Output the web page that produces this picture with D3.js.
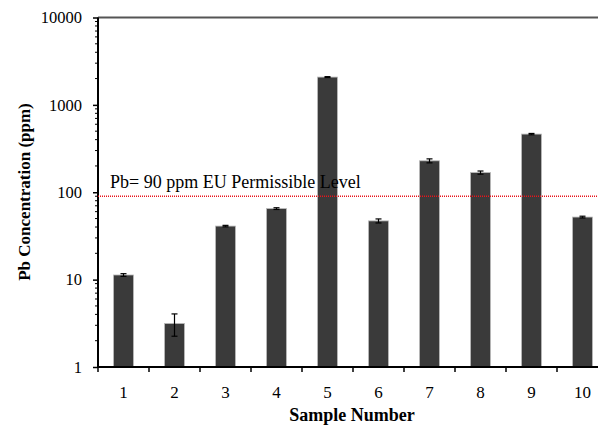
<!DOCTYPE html>
<html><head><meta charset="utf-8">
<script src="https://cdn.jsdelivr.net/npm/d3@7"></script>
<style>body{margin:0;background:#fff;overflow:hidden}svg{display:block}</style>
</head><body>
<script>
const categories = ["1","2","3","4","5","6","7","8","9","10"];
const values = [11.3, 3.15, 41, 65, 2080, 47, 229, 168, 463, 52];
const errors = [0.4, 0.9, 0.8, 1.5, 25, 2.5, 12, 7, 8, 1.2];
const yTicks = [1, 10, 100, 1000, 10000];
const limitValue = 90;
const limitLabel = "Pb= 90 ppm EU Permissible Level";

const W = 598, H = 427;
const m = {left: 98, top: 17.5, bottom: 367, right: 608};
const svg = d3.select("body").append("svg").attr("width", W).attr("height", H);
const font = "'Liberation Serif','Times New Roman',serif";

const x = d3.scaleBand().domain(categories).range([m.left, m.right]).paddingInner(0).paddingOuter(0);
const y = d3.scaleLog().domain([1, 10000]).range([m.bottom, m.top]);

// top border
svg.append("line").attr("x1", m.left).attr("x2", m.right).attr("y1", m.top).attr("y2", m.top)
  .attr("stroke", "#555").attr("stroke-width", 2);

// bars
const bw = 20;
svg.selectAll("rect.bar").data(values).join("rect")
  .attr("x", (d,i) => x(categories[i]) + x.bandwidth()/2 - bw/2)
  .attr("y", d => y(d))
  .attr("width", bw)
  .attr("height", d => m.bottom - y(d))
  .attr("fill", "#3a3a3a").attr("stroke", "#bbb").attr("stroke-width", 0.8);

// error bars
const eg = svg.append("g").attr("stroke", "#000").attr("stroke-width", 1.2);
values.forEach((v,i) => {
  const cx = x(categories[i]) + x.bandwidth()/2;
  const y1 = y(v + errors[i]), y2 = y(v - errors[i]);
  eg.append("line").attr("x1", cx).attr("x2", cx).attr("y1", y1).attr("y2", y2);
  eg.append("line").attr("x1", cx-3).attr("x2", cx+3).attr("y1", y1).attr("y2", y1);
  eg.append("line").attr("x1", cx-3).attr("x2", cx+3).attr("y1", y2).attr("y2", y2);
});

// y axis
const minor = [];
for (let e = 0; e < 4; e++) for (let k = 2; k <= 9; k++) minor.push(k * Math.pow(10, e));
const yg = svg.append("g").attr("transform", `translate(${m.left},0)`);
yg.call(d3.axisLeft(y).tickValues(yTicks).tickFormat(d3.format("d")).tickSize(5).tickPadding(11));
yg.append("g").selectAll("line").data(minor).join("line")
  .attr("x1", -3).attr("x2", 0).attr("y1", d => y(d)).attr("y2", d => y(d))
  .attr("stroke", "#000").attr("stroke-width", 1);
yg.select(".domain").attr("stroke-width", 2).attr("d", `M0,${m.top}V${m.bottom}`);
yg.selectAll(".tick line").attr("stroke-width", 1.5);
yg.selectAll("text").attr("font-family", font).attr("font-size", 16.5).attr("fill", "#000");

// x axis
const xg = svg.append("g").attr("transform", `translate(0,${m.bottom})`);
xg.call(d3.axisBottom(x).tickSize(0).tickPadding(19));
xg.select(".domain").attr("stroke-width", 2).attr("d", `M${m.left},0H${m.right}`);
xg.selectAll("text").attr("font-family", font).attr("font-size", 17).attr("fill", "#000");
const bounds = categories.map(c => x(c)).concat([m.right]);
xg.append("g").selectAll("line").data(bounds).join("line")
  .attr("x1", d => d).attr("x2", d => d).attr("y1", 0).attr("y2", 5)
  .attr("stroke", "#000").attr("stroke-width", 1.5);

// limit line
svg.append("line").attr("x1", m.left).attr("x2", W).attr("y1", y(limitValue)).attr("y2", y(limitValue))
  .attr("stroke", "#e8141c").attr("stroke-width", 1.5).attr("stroke-dasharray", "1,1");
svg.append("text").attr("x", 110).attr("y", 188).text(limitLabel)
  .attr("font-family", font).attr("font-size", 18).attr("fill", "#000");

// axis titles
svg.append("text").attr("x", 352).attr("y", 421).attr("text-anchor", "middle")
  .attr("font-family", font).attr("font-weight", "bold").attr("font-size", 18).text("Sample Number");
svg.append("text").attr("transform", `translate(30,192) rotate(-90)`).attr("text-anchor", "middle")
  .attr("font-family", font).attr("font-weight", "bold").attr("font-size", 17).text("Pb Concentration (ppm)");
</script>
</body></html>
